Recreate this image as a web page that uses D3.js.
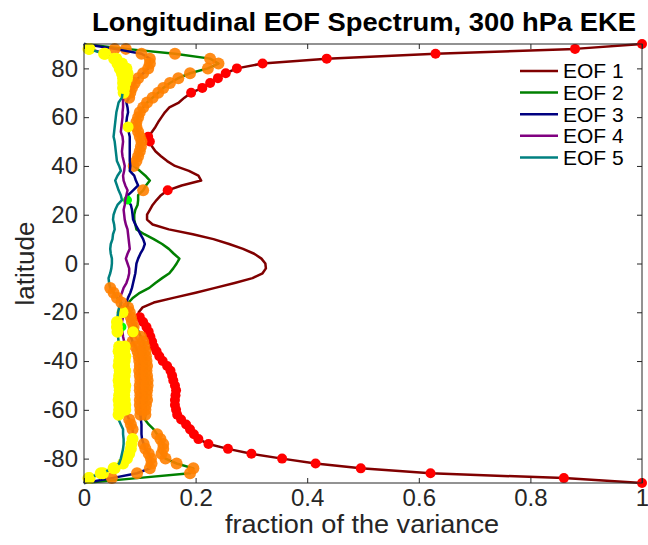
<!DOCTYPE html>
<html>
<head>
<meta charset="utf-8">
<script src="https://cdn.jsdelivr.net/npm/d3@7"></script>
<style>
  html, body { margin: 0; padding: 0; background: #ffffff; }
  svg { display: block; }
  text { font-family: "Liberation Sans", Arial, Helvetica, sans-serif; }
</style>
</head>
<body>
<div id="chart"></div>
<script>
// ---------------- data ----------------
const latitudes = [90,88,86,84,82,80,78,76,74,72,70,68,66,64,62,60,58,56,54,52,50,48,46,44,42,40,38,36,34,32,30,28,26,24,22,20,18,16,14,12,10,8,6,4,2,0,
  -2,-4,-6,-8,-10,-12,-14,-16,-18,-20,-22,-24,-26,-28,-30,-32,-34,-36,-38,-40,-42,-44,-46,-48,-50,-52,-54,-56,-58,-60,-62,-64,-66,-68,-70,-72,-74,-76,-78,-80,-82,-84,-86,-88,-90];

const eof1 = [1.0,0.88,0.63,0.435,0.32,0.274,0.254,0.24,0.226,0.212,0.192,0.18,0.17,0.153,0.145,0.139,0.133,0.128,0.122,0.115,0.118,0.122,0.128,0.138,0.149,0.163,0.188,0.205,0.21,0.175,0.15,0.138,0.13,0.123,0.118,0.113,0.113,0.123,0.152,0.195,0.232,0.26,0.285,0.305,0.318,0.325,
  0.326,0.32,0.302,0.27,0.235,0.2,0.162,0.125,0.105,0.098,0.1,0.106,0.112,0.116,0.119,0.122,0.125,0.13,0.135,0.141,0.149,0.155,0.158,0.16,0.163,0.165,0.164,0.163,0.163,0.165,0.167,0.174,0.183,0.19,0.197,0.205,0.223,0.258,0.3,0.355,0.415,0.496,0.621,0.86,1.0];

const eof2 = [0.0,0.075,0.163,0.226,0.241,0.222,0.19,0.169,0.154,0.142,0.133,0.123,0.113,0.106,0.1,0.097,0.094,0.094,0.097,0.1,0.103,0.102,0.1,0.097,0.094,0.089,0.1,0.11,0.118,0.111,0.106,0.097,0.097,0.096,0.092,0.09,0.09,0.092,0.094,0.108,0.125,0.14,0.152,0.161,0.171,0.166,
  0.16,0.153,0.14,0.128,0.117,0.1,0.088,0.08,0.076,0.08,0.085,0.09,0.094,0.098,0.102,0.106,0.108,0.11,0.111,0.112,0.113,0.112,0.113,0.114,0.114,0.113,0.112,0.113,0.111,0.11,0.11,0.109,0.116,0.125,0.131,0.137,0.142,0.142,0.139,0.146,0.166,0.196,0.19,0.095,0.0];

const eof3 = [0.0,0.055,0.103,0.118,0.118,0.115,0.106,0.097,0.091,0.086,0.083,0.081,0.076,0.078,0.079,0.077,0.076,0.079,0.08,0.082,0.082,0.082,0.082,0.082,0.082,0.083,0.082,0.09,0.093,0.097,0.088,0.079,0.078,0.084,0.086,0.087,0.088,0.092,0.097,0.101,0.106,0.109,0.106,0.101,0.097,0.094,
  0.093,0.092,0.09,0.088,0.086,0.083,0.079,0.076,0.079,0.082,0.084,0.086,0.089,0.088,0.084,0.087,0.092,0.096,0.098,0.099,0.1,0.099,0.1,0.101,0.1,0.1,0.101,0.1,0.1,0.101,0.101,0.102,0.103,0.103,0.103,0.104,0.107,0.11,0.116,0.12,0.121,0.118,0.095,0.05,0.0];

const eof4 = [0.0,0.01,0.038,0.058,0.068,0.076,0.078,0.077,0.074,0.072,0.071,0.07,0.07,0.07,0.069,0.069,0.068,0.067,0.066,0.069,0.07,0.069,0.068,0.069,0.071,0.073,0.072,0.07,0.071,0.074,0.078,0.076,0.074,0.073,0.071,0.072,0.073,0.075,0.078,0.079,0.08,0.081,0.082,0.078,0.075,0.078,
  0.081,0.081,0.079,0.076,0.071,0.068,0.064,0.065,0.067,0.069,0.07,0.068,0.068,0.069,0.07,0.072,0.073,0.072,0.074,0.073,0.072,0.074,0.073,0.072,0.074,0.073,0.072,0.073,0.074,0.074,0.077,0.081,0.084,0.087,0.088,0.087,0.085,0.084,0.081,0.077,0.07,0.055,0.034,0.01,0.0];

const eof5 = [0.0,0.008,0.036,0.054,0.06,0.064,0.068,0.07,0.07,0.07,0.069,0.068,0.062,0.06,0.058,0.057,0.056,0.055,0.054,0.053,0.055,0.056,0.057,0.058,0.059,0.063,0.066,0.06,0.056,0.059,0.062,0.066,0.068,0.06,0.056,0.053,0.052,0.054,0.055,0.052,0.051,0.048,0.047,0.048,0.05,0.05,
  0.049,0.047,0.044,0.045,0.047,0.053,0.059,0.067,0.063,0.061,0.06,0.059,0.059,0.06,0.061,0.062,0.063,0.062,0.064,0.063,0.062,0.064,0.063,0.062,0.063,0.064,0.063,0.062,0.063,0.063,0.062,0.062,0.066,0.07,0.07,0.071,0.071,0.07,0.068,0.066,0.063,0.053,0.03,0.008,0.0];

const seriesNames = ["EOF 1", "EOF 2", "EOF 3", "EOF 4", "EOF 5"];

// latitudes (per EOF) that carry a coloured marker
const redMarksEOF1 = [90,88,86,84,82,80,78,76,74,72,70,52,50,30,
  -22,-24,-26,-28,-30,-32,-34,-36,-38,-40,-42,-44,-46,-48,-50,-52,-54,-56,-58,-60,-62,-64,-66,-68,-70,-72,-74,-76,-78,-80,-82,-84,-86,-88,-90];
const orangeMarksEOF2 = [88,86,84,82,80,78,76,74,72,70,68,66,64,62,60,58,56,54,52,50,48,46,44,42,40,30,
  -30,-32,-34,-36,-38,-40,-42,-44,-46,-48,-50,-52,-54,-56,-58,-60,-62,-70,-72,-74,-76,-78,-80,-82,-84,-86];
const orangeMarksEOF3 = [88,86,84,82,80,78,76,74,72,70,68,
  -18,-20,-22,-24,-26,-28,-32,-34,-36,-38,-40,-42,-44,-46,-48,-50,-52,-54,-56,-58,-60,-62,-74,-76,-78,-80,-82,-84,-86,-88];
const orangeMarksEOF4 = [-64,-66,-68];
const orangeMarksEOF5 = [-10,-12,-14,-16];
const yellowMarksEOF3 = [56,-28];
const yellowMarksEOF4 = [88,86,84,82,80,78,76,74,72,70,-20,
  -34,-36,-38,-40,-42,-44,-46,-48,-50,-52,-54,-56,-58,-60,-72,-74,-76,-78,-80,-82,-84,-86,-88];
const yellowMarksEOF5 = [88,86,84,82,80,78,76,74,72,-24,-26,-28,
  -34,-36,-38,-40,-42,-44,-46,-48,-50,-52,-54,-56,-58,-60,-62,-84,-86,-88];
const limeMarksEOF3 = [26];
const limeMarksEOF4 = [-26];

const xTicks = [0, 0.2, 0.4, 0.6, 0.8, 1];
const xTickLabels = ["0", "0.2", "0.4", "0.6", "0.8", "1"];
const yTicks = [-80, -60, -40, -20, 0, 20, 40, 60, 80];
const yTickLabels = ["-80", "-60", "-40", "-20", "0", "20", "40", "60", "80"];

const titleText = "Longitudinal EOF Spectrum, 300 hPa EKE";
const xLabelText = "fraction of the variance";
const yLabelText = "latitude";

// ---------------- drawing ----------------
const W = 648, H = 545;
const plot = { left: 84, right: 642, top: 44, bottom: 483 };
const axisColor = "#262626";
const lineColors = ["#800000", "#008000", "#000080", "#800080", "#008080"];
const markColors = { red: "#ff0000", orange: "#ff8000", yellow: "#ffff00", lime: "#00ff00" };

const svg = d3.select("#chart").append("svg")
  .attr("width", W).attr("height", H);

const x = d3.scaleLinear().domain([0, 1]).range([plot.left, plot.right]);
const y = d3.scaleLinear().domain([-90, 90]).range([plot.bottom, plot.top]);

const series = [eof1, eof2, eof3, eof4, eof5];

svg.append("defs").append("clipPath").attr("id", "plotclip")
  .append("rect")
  .attr("x", plot.left - 8).attr("y", plot.top - 8)
  .attr("width", plot.right - plot.left + 16).attr("height", plot.bottom - plot.top + 16);

const line = d3.line()
  .x(d => x(d[1]))
  .y(d => y(d[0]));

const valueAt = (vals, lat) => vals[latitudes.indexOf(lat)];

const marksByEOF = [
  [{ c: "red", lats: redMarksEOF1, r: 5 }],
  [{ c: "orange", lats: orangeMarksEOF2, r: 6 }],
  [{ c: "orange", lats: orangeMarksEOF3, r: 6 }, { c: "yellow", lats: yellowMarksEOF3, r: 5.5 }, { c: "lime", lats: limeMarksEOF3, r: 4.5 }],
  [{ c: "orange", lats: orangeMarksEOF4, r: 6 }, { c: "yellow", lats: yellowMarksEOF4, r: 6 }, { c: "lime", lats: limeMarksEOF4, r: 4.5 }],
  [{ c: "orange", lats: orangeMarksEOF5, r: 6 }, { c: "yellow", lats: yellowMarksEOF5, r: 6 }]
];

const g = svg.append("g").attr("clip-path", "url(#plotclip)");

series.forEach((vals, i) => {
  const pts = latitudes.map((lat, j) => [lat, vals[j]]);
  g.append("path")
    .datum(pts)
    .attr("fill", "none")
    .attr("stroke", lineColors[i])
    .attr("stroke-width", 2.5)
    .attr("stroke-linejoin", "round")
    .attr("d", line);
  marksByEOF[i].forEach(set => {
    g.selectAll(null)
      .data(set.lats)
      .enter().append("circle")
      .attr("cx", lat => x(valueAt(vals, lat)))
      .attr("cy", lat => y(lat))
      .attr("r", set.r)
      .attr("fill", markColors[set.c])
      .attr("fill-opacity", set.c === "orange" ? 0.9 : 1);
  });
});

// axes (MATLAB style, ticks inside on all 4 sides)
const tickLen = 5;
const fontTick = 24;

const axB = svg.append("g").attr("transform", `translate(0,${plot.bottom})`)
  .call(d3.axisBottom(x).tickValues(xTicks).tickSize(-tickLen).tickPadding(6)
    .tickFormat((d, i) => xTickLabels[i]));
const axT = svg.append("g").attr("transform", `translate(0,${plot.top})`)
  .call(d3.axisTop(x).tickValues(xTicks).tickSize(-tickLen).tickFormat(""));
const axL = svg.append("g").attr("transform", `translate(${plot.left},0)`)
  .call(d3.axisLeft(y).tickValues(yTicks).tickSize(-tickLen).tickPadding(6)
    .tickFormat((d, i) => yTickLabels[i]));
const axR = svg.append("g").attr("transform", `translate(${plot.right},0)`)
  .call(d3.axisRight(y).tickValues(yTicks).tickSize(-tickLen).tickFormat(""));

[axB, axT, axL, axR].forEach(a => {
  a.select(".domain").remove();
  a.selectAll(".tick line").attr("stroke", axisColor).attr("stroke-width", 1);
  a.selectAll(".tick text")
    .attr("fill", axisColor)
    .style("font-size", fontTick + "px")
    .style("font-family", '"Liberation Sans", Arial, Helvetica, sans-serif');
});

svg.append("rect")
  .attr("x", plot.left).attr("y", plot.top)
  .attr("width", plot.right - plot.left).attr("height", plot.bottom - plot.top)
  .attr("fill", "none").attr("stroke", axisColor).attr("stroke-width", 1);

// title & labels
svg.append("text")
  .attr("x", (plot.left + plot.right) / 2 + 1).attr("y", 31)
  .attr("text-anchor", "middle")
  .attr("font-weight", "bold")
  .attr("font-size", 26)
  .attr("textLength", 544).attr("lengthAdjust", "spacingAndGlyphs")
  .attr("fill", "#000")
  .text(titleText);

svg.append("text")
  .attr("x", 362).attr("y", 533)
  .attr("text-anchor", "middle")
  .attr("font-size", 26)
  .attr("textLength", 274).attr("lengthAdjust", "spacingAndGlyphs")
  .attr("fill", axisColor)
  .text(xLabelText);

svg.append("text")
  .attr("transform", `translate(34,${(plot.top + plot.bottom) / 2}) rotate(-90)`)
  .attr("text-anchor", "middle")
  .attr("font-size", 26)
  .attr("fill", axisColor)
  .text(yLabelText);

// legend (no box)
const legend = svg.append("g");
seriesNames.forEach((name, i) => {
  const ly = 71 + i * 21.6;
  legend.append("line")
    .attr("x1", 520).attr("x2", 558)
    .attr("y1", ly).attr("y2", ly)
    .attr("stroke", lineColors[i]).attr("stroke-width", 2.5);
  legend.append("text")
    .attr("x", 563).attr("y", ly)
    .attr("dy", "0.35em")
    .attr("font-size", 21)
    .attr("fill", "#000")
    .text(name);
});
</script>
</body>
</html>
